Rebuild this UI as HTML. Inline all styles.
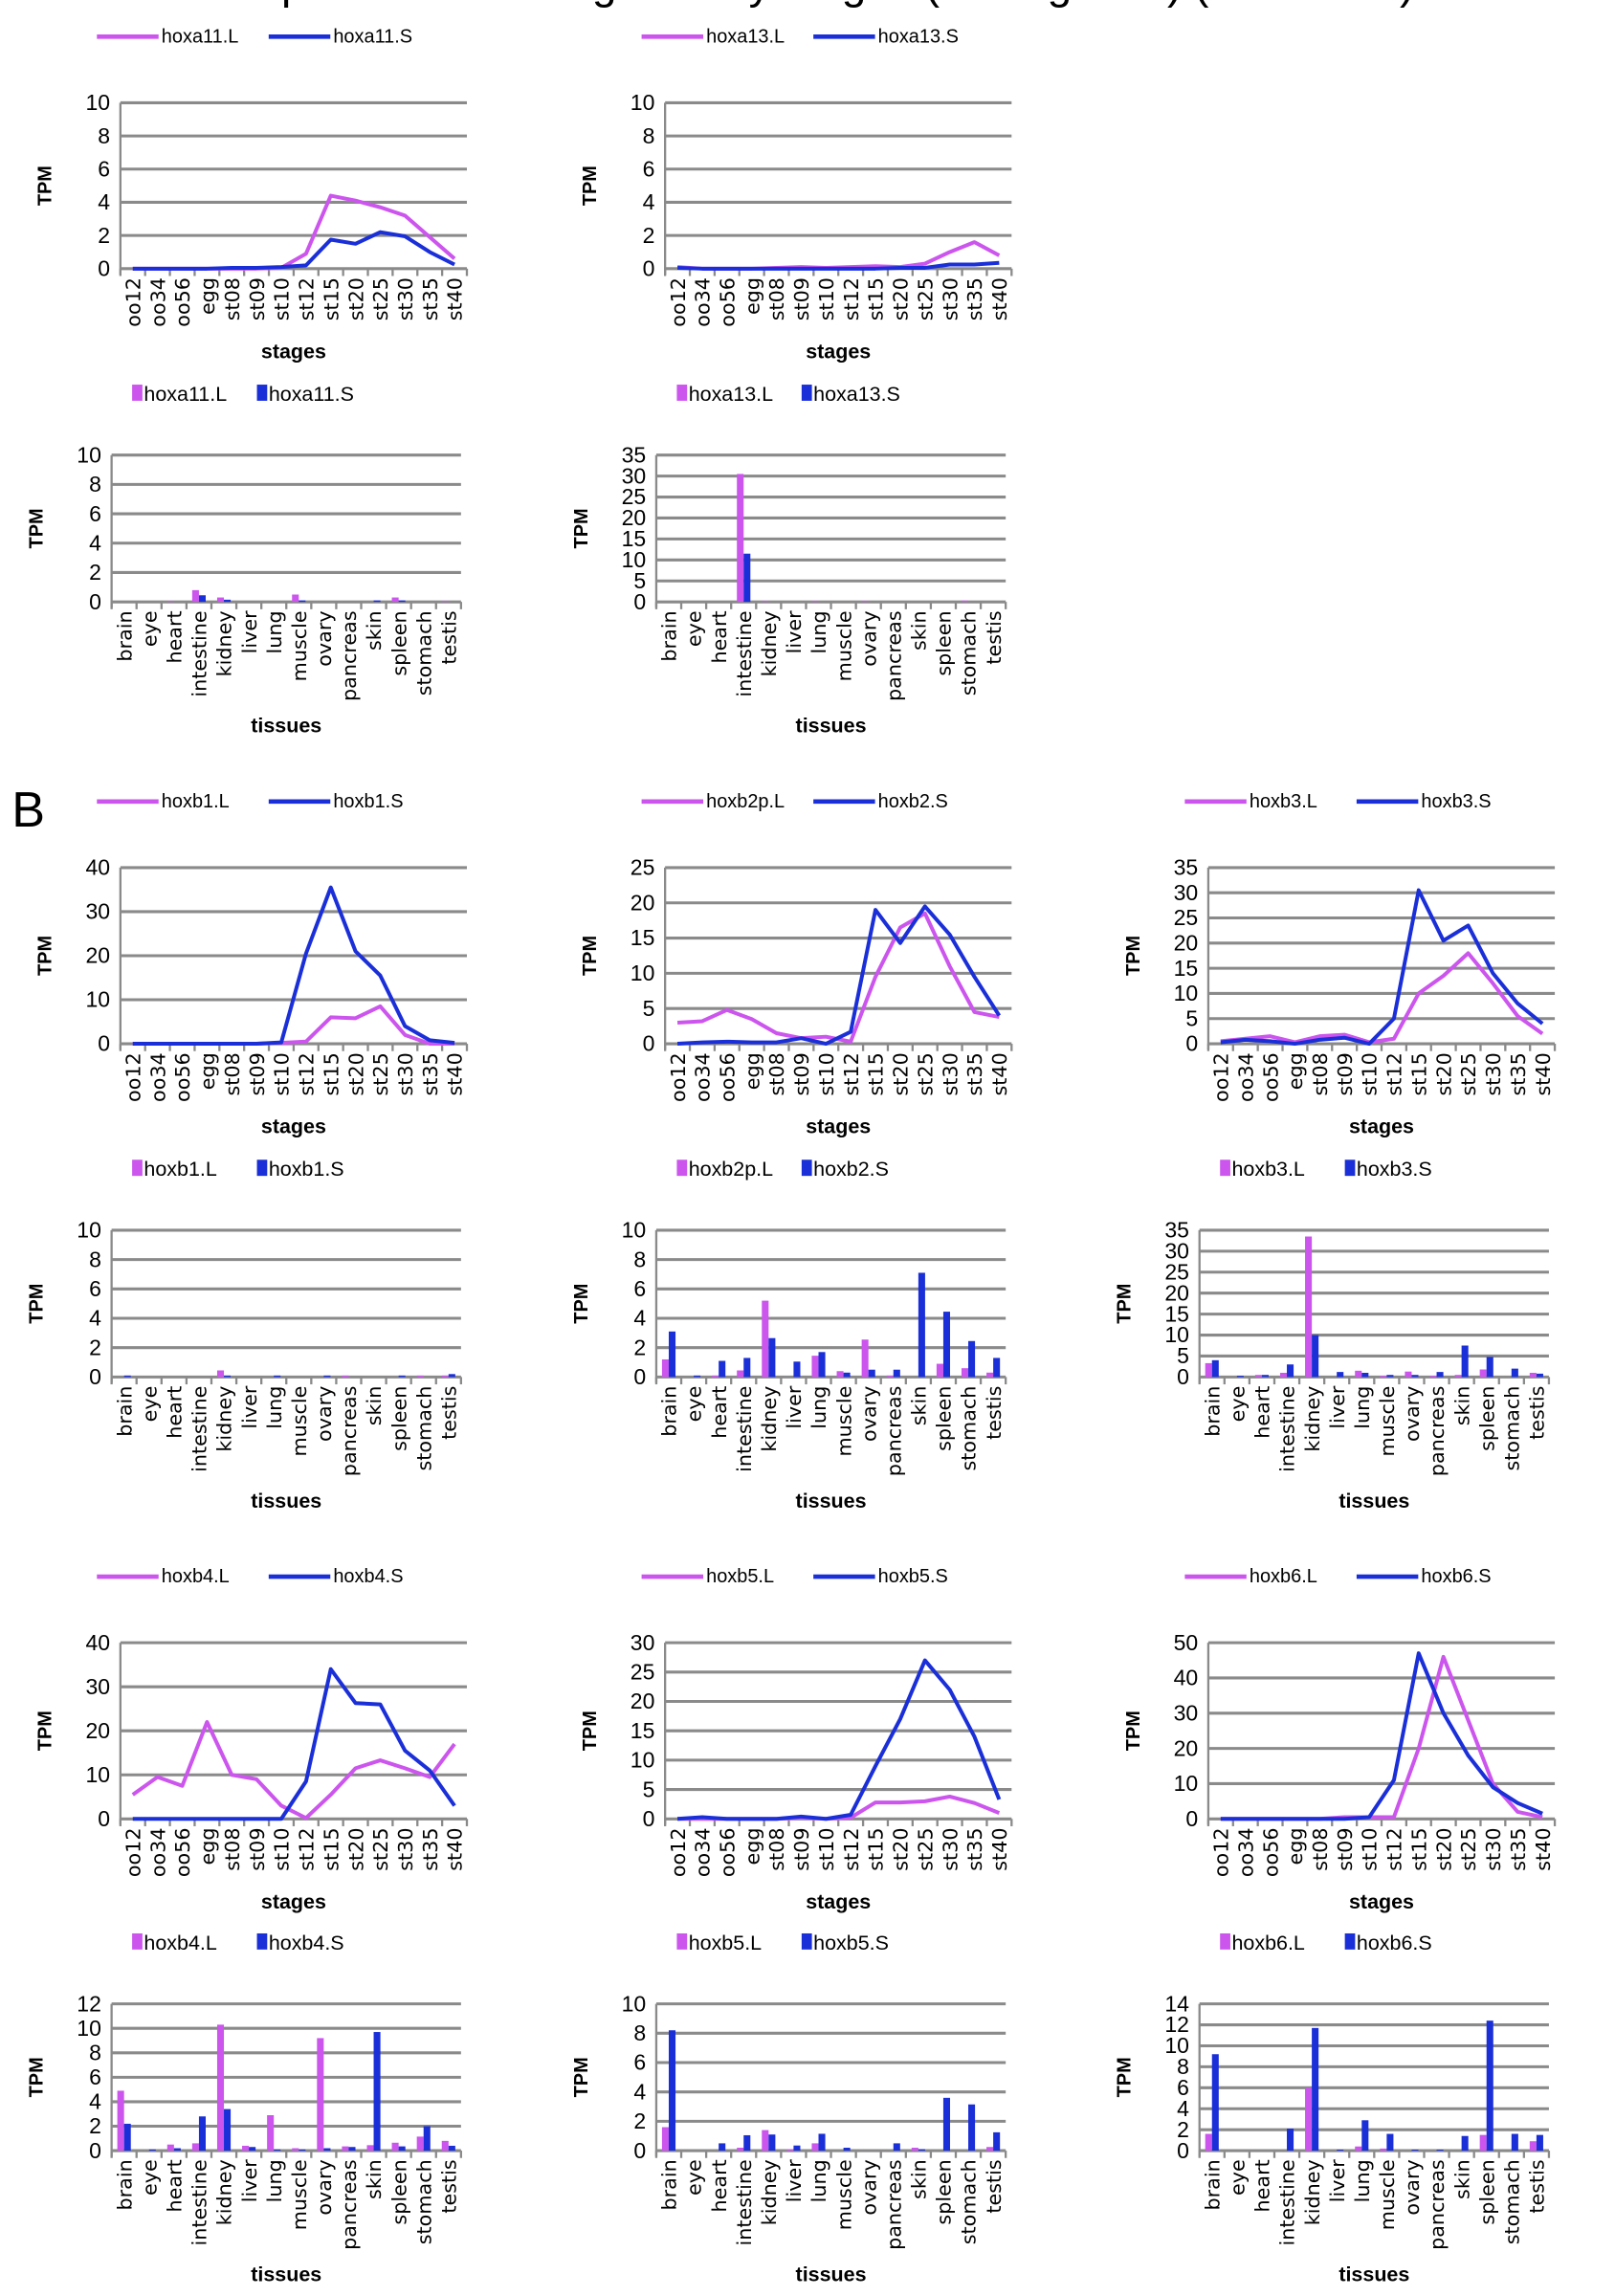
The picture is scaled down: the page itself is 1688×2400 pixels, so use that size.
<!DOCTYPE html>
<html><head><meta charset="utf-8">
<style>
html,body{margin:0;padding:0;background:#fff;}
svg{display:block;}
text{font-family:"Liberation Sans",sans-serif;}
.nar{font-family:"Liberation Sans Narrow","Liberation Sans",sans-serif;}
.dv{font-family:"DejaVu Sans","Liberation Sans",sans-serif;}
</style></head>
<body>
<svg id="fig" width="1688" height="2400" viewBox="0 0 1100 1564" xmlns="http://www.w3.org/2000/svg">
<text x="560" y="-1" font-size="30" text-anchor="middle" fill="#000">Expression of hox genes by stages (hoxa genes) (continued)</text>
<text x="8" y="563" font-size="34" fill="#000">B</text>
</svg>
<script>
const stages = ["oo12","oo34","oo56","egg","st08","st09","st10","st12","st15","st20","st25","st30","st35","st40"];
const tissues = ["brain","eye","heart","intestine","kidney","liver","lung","muscle","ovary","pancreas","skin","spleen","stomach","testis"];

const hoxa11L_stage = [0,0,0,0,0,0,0.05,0.9,4.4,4.1,3.7,3.2,1.9,0.6];
const hoxa11S_stage = [0,0,0,0,0.05,0.05,0.1,0.2,1.75,1.5,2.2,1.95,1.0,0.25];
const hoxa13L_stage = [0.1,0,0,0,0.05,0.1,0.05,0.1,0.15,0.1,0.3,1.0,1.6,0.8];
const hoxa13S_stage = [0.05,0,0,0,0,0,0,0,0,0.05,0.05,0.25,0.25,0.35];
const hoxa11L_tissue = [0,0,0.05,0.8,0.3,0,0,0.5,0,0,0,0.3,0,0.05];
const hoxa11S_tissue = [0,0,0,0.45,0.15,0,0,0.1,0,0,0.1,0.1,0,0];
const hoxa13L_tissue = [0,0,0,30.5,0.2,0,0.2,0,0.2,0,0,0,0.3,0];
const hoxa13S_tissue = [0,0,0,11.5,0,0,0,0,0,0,0,0,0,0];

const hoxb1L_stage = [0,0,0,0,0,0,0.2,0.5,6,5.8,8.5,2,0,0];
const hoxb1S_stage = [0,0,0,0,0,0,0.3,20.5,35.5,21,15.5,4,0.8,0.2];
const hoxb2L_stage = [3,3.2,4.8,3.5,1.5,0.8,1,0.3,9.5,16.5,18.5,11,4.5,3.8];
const hoxb2S_stage = [0,0.2,0.3,0.2,0.2,0.8,0,1.7,19,14.3,19.5,15.5,9.5,4];
const hoxb3L_stage = [0.5,1,1.5,0.3,1.5,1.8,0.3,1,10,13.5,18,12,5.5,2];
const hoxb3S_stage = [0.3,0.8,0.5,0,0.8,1.2,0,5,30.5,20.5,23.5,14,8,4];
const hoxb1L_tissue = [0,0,0,0,0.45,0,0,0,0,0.1,0,0,0.1,0.1];
const hoxb1S_tissue = [0.1,0,0,0,0.1,0,0.1,0,0.1,0,0,0.1,0,0.2];
const hoxb2L_tissue = [1.2,0,0.1,0.45,5.2,0,1.45,0.4,2.55,0.1,0,0.9,0.6,0.3];
const hoxb2S_tissue = [3.1,0.1,1.1,1.3,2.65,1.05,1.7,0.3,0.5,0.5,7.1,4.45,2.45,1.3];
const hoxb3L_tissue = [3.3,0,0.5,1,33.5,0,1.5,0.3,1.3,0.3,0.5,1.8,0,1];
const hoxb3S_tissue = [4,0.3,0.5,3,10,1.2,1,0.5,0.5,1.2,7.5,4.8,2,0.8];

const hoxb4L_stage = [5.5,9.5,7.5,22,10,9,3,0.2,5.5,11.5,13.3,11.5,9.5,17];
const hoxb4S_stage = [0,0,0,0,0,0,0,8.5,34,26.3,26,15.5,11,3];
const hoxb5L_stage = [0,0,0,0,0,0.2,0,0.2,2.8,2.8,3,3.8,2.7,1];
const hoxb5S_stage = [0,0.3,0,0,0,0.4,0,0.7,9,17,27,22,14,3.3];
const hoxb6L_stage = [0,0,0,0,0,0.5,0.5,0.5,20,46,28,10,2,0.5];
const hoxb6S_stage = [0,0,0,0,0,0,0.5,11,47,30,18,9,4.5,1.5];
const hoxb4L_tissue = [4.9,0,0.5,0.6,10.3,0.4,2.9,0.2,9.2,0.35,0.45,0.65,1.15,0.8];
const hoxb4S_tissue = [2.2,0.1,0.2,2.8,3.4,0.3,0.1,0.1,0.2,0.3,9.7,0.35,2.0,0.4];
const hoxb5L_tissue = [1.6,0,0,0.2,1.4,0.1,0.5,0,0,0,0.2,0,0,0.25];
const hoxb5S_tissue = [8.2,0,0.5,1.05,1.1,0.35,1.15,0.2,0,0.5,0.1,3.6,3.15,1.25];
const hoxb6L_tissue = [1.6,0,0,0,6,0,0.4,0.2,0,0,0,1.5,0,0.9];
const hoxb6S_tissue = [9.2,0,0,2.1,11.7,0.1,2.9,1.6,0.1,0.1,1.4,12.4,1.6,1.5];

const PINK = "#cc55ee", BLUE = "#1a2fd8", GRID = "#8a8a8a";
const svg = document.getElementById('fig');
const NS = "http://www.w3.org/2000/svg";
function mk(tag, attrs, parent){ const e=document.createElementNS(NS,tag); for(const k in attrs) e.setAttribute(k,attrs[k]); (parent||svg).appendChild(e); return e; }

function axes(g, x0, w, top, bottom, max, step){
  const y = v => bottom - (v/max)*(bottom-top);
  for(let v=0; v<=max+1e-9; v+=step){
    const l = mk('line',{x1:x0,x2:x0+w,y1:y(v),y2:y(v),stroke:GRID,'stroke-width':2},g);
    
    
    const t = mk('text',{x:x0-7,y:y(v)+5,'font-size':15,'text-anchor':'end',fill:'#000','class':'nar'},g);
    
    
    t.textContent = v;
  }
  const ya = mk('line',{x1:x0,x2:x0,y1:top,y2:bottom+4,stroke:GRID,'stroke-width':1.5},g);
  
  
  const n=14, cw=w/n;
  for(let i=0;i<=n;i++){
    const tk = mk('line',{x1:x0+i*cw,x2:x0+i*cw,y1:bottom,y2:bottom+5,stroke:GRID,'stroke-width':1.5},g);
    
    
  }
  const tt = mk('text',{x:0,y:0,'font-size':13,'font-weight':'bold','text-anchor':'middle',transform:`translate(${x0-47},${(top+bottom)/2}) rotate(-90)`},g);
  
  
  tt.textContent='TPM';
  return y;
}
function xlabels(g,x0,w,bottom,cats,title,titleDy){
  const cw=w/cats.length;
  cats.forEach((c,i)=>{
    const cx=x0+cw*(i+0.5);
    const t=mk('text',{x:0,y:0,'font-size':13.5,'text-anchor':'end','class':'dv',transform:`translate(${cx+5},${bottom+6}) rotate(-90)`},g);
    
    
    t.textContent=c;
  });
  const at=mk('text',{x:x0+w/2,y:bottom+titleDy,'font-size':14,'font-weight':'bold','text-anchor':'middle','class':'nar'},g);
  
  
  at.textContent=title;
}
function lineChart(name,x0,top,bottom,max,step,L,S,nameL,nameS){
  const w=236;
  const g=mk('g',{});
  
  
  const y=axes(g,x0,w,top,bottom,max,step);
  xlabels(g,x0,w,bottom,stages,'stages',61);
  const cw=w/stages.length;
  [[L,PINK,nameL],[S,BLUE,nameS]].forEach(([d,col,nm])=>{
    const pts=d.map((v,i)=>`${x0+cw*(i+0.5)},${y(v)}`).join(' ');
    const p=mk('polyline',{points:pts,fill:'none',stroke:col,'stroke-width':2.6,'stroke-linejoin':'round'},g);
    
    
  });
  const ly=top-45;
  [[PINK,nameL,-16],[BLUE,nameS,101]].forEach(([col,nm,dx])=>{
    const l=mk('line',{x1:x0+dx,x2:x0+dx+42,y1:ly,y2:ly,stroke:col,'stroke-width':3},g);
    
    
    const t=mk('text',{x:x0+dx+44,y:ly+4,'font-size':13,'class':'nar'},g);
    
    
    t.textContent=nm;
  });
}
function barChart(name,x0,top,bottom,max,step,L,S,nameL,nameS){
  const w=238;
  const g=mk('g',{});
  
  
  const y=axes(g,x0,w,top,bottom,max,step);
  xlabels(g,x0,w,bottom,tissues,'tissues',89);
  const cw=w/tissues.length, bw=4.6;
  tissues.forEach((c,i)=>{
    const cx=x0+cw*(i+0.5);
    const b1=mk('rect',{x:cx-bw,y:y(L[i]),width:bw,height:bottom-y(L[i]),fill:PINK},g);
    
    
    const b2=mk('rect',{x:cx,y:y(S[i]),width:bw,height:bottom-y(S[i]),fill:BLUE},g);
    
    
  });
  const ly=top-42;
  [[PINK,nameL,14],[BLUE,nameS,99]].forEach(([col,nm,dx])=>{
    const r=mk('rect',{x:x0+dx,y:ly-6,width:7,height:11,fill:col},g);
    
    
    const t=mk('text',{x:x0+dx+8,y:ly+5,'font-size':14,'class':'nar'},g);
    
    
    t.textContent=nm;
  });
}
const LX=[82,453,823], BX=[76,447,817];
lineChart('hoxa11',LX[0],70,183,10,2,hoxa11L_stage,hoxa11S_stage,'hoxa11.L','hoxa11.S');
lineChart('hoxa13',LX[1],70,183,10,2,hoxa13L_stage,hoxa13S_stage,'hoxa13.L','hoxa13.S');
barChart('hoxa11',BX[0],310,410,10,2,hoxa11L_tissue,hoxa11S_tissue,'hoxa11.L','hoxa11.S');
barChart('hoxa13',BX[1],310,410,35,5,hoxa13L_tissue,hoxa13S_tissue,'hoxa13.L','hoxa13.S');

lineChart('hoxb1',LX[0],591,711,40,10,hoxb1L_stage,hoxb1S_stage,'hoxb1.L','hoxb1.S');
lineChart('hoxb2',LX[1],591,711,25,5,hoxb2L_stage,hoxb2S_stage,'hoxb2p.L','hoxb2.S');
lineChart('hoxb3',LX[2],591,711,35,5,hoxb3L_stage,hoxb3S_stage,'hoxb3.L','hoxb3.S');
barChart('hoxb1',BX[0],838,938,10,2,hoxb1L_tissue,hoxb1S_tissue,'hoxb1.L','hoxb1.S');
barChart('hoxb2',BX[1],838,938,10,2,hoxb2L_tissue,hoxb2S_tissue,'hoxb2p.L','hoxb2.S');
barChart('hoxb3',BX[2],838,938,35,5,hoxb3L_tissue,hoxb3S_tissue,'hoxb3.L','hoxb3.S');

lineChart('hoxb4',LX[0],1119,1239,40,10,hoxb4L_stage,hoxb4S_stage,'hoxb4.L','hoxb4.S');
lineChart('hoxb5',LX[1],1119,1239,30,5,hoxb5L_stage,hoxb5S_stage,'hoxb5.L','hoxb5.S');
lineChart('hoxb6',LX[2],1119,1239,50,10,hoxb6L_stage,hoxb6S_stage,'hoxb6.L','hoxb6.S');
barChart('hoxb4',BX[0],1365,1465,12,2,hoxb4L_tissue,hoxb4S_tissue,'hoxb4.L','hoxb4.S');
barChart('hoxb5',BX[1],1365,1465,10,2,hoxb5L_tissue,hoxb5S_tissue,'hoxb5.L','hoxb5.S');
barChart('hoxb6',BX[2],1365,1465,14,2,hoxb6L_tissue,hoxb6S_tissue,'hoxb6.L','hoxb6.S');
</script>
</body></html>
